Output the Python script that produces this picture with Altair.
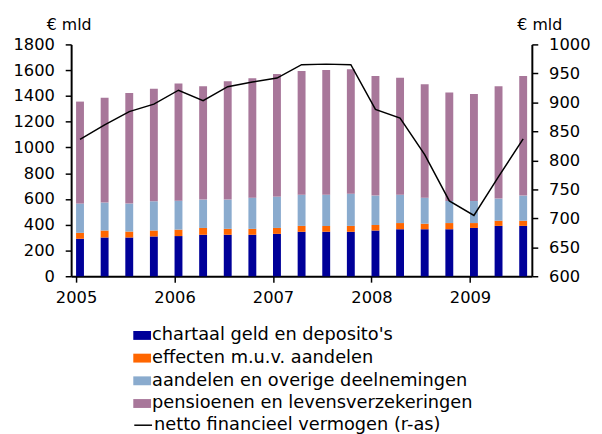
import altair as alt
import pandas as pd

quarters = ["2005Q1", "2005Q2", "2005Q3", "2005Q4",
            "2006Q1", "2006Q2", "2006Q3", "2006Q4",
            "2007Q1", "2007Q2", "2007Q3", "2007Q4",
            "2008Q1", "2008Q2", "2008Q3", "2008Q4",
            "2009Q1", "2009Q2", "2009Q3"]
chartaal = [291, 301, 301, 309, 312, 322, 322, 322, 329, 345, 345, 345, 355, 365, 365, 365, 375, 391, 391]
effecten = [46, 54, 46, 46, 50, 53, 46, 46, 46, 46, 46, 46, 43, 48, 43, 48, 38, 40, 40]
aandelen = [227, 217, 217, 227, 225, 220, 227, 242, 243, 242, 241, 250, 228, 220, 202, 171, 171, 172, 195]
pensioen = [792, 814, 858, 873, 909, 881, 919, 927, 952, 960, 969, 967, 929, 909, 881, 843, 831, 873, 929]
netto = [836, 861, 884, 897, 921, 903, 927, 935, 942, 965, 966, 965, 888, 873, 810, 730, 705, 772, 837]

series_names = ["chartaal geld en deposito's", "effecten m.u.v. aandelen",
                "aandelen en overige deelnemingen", "pensioenen en levensverzekeringen"]
series_colors = ["#000099", "#FF6600", "#8AABCE", "#A8779A"]
line_name = "netto financieel vermogen (r-as)"
year_ticks = [2005, 2006, 2007, 2008, 2009]


def qpos(q):
    return int(q[:4]) + (int(q[5]) - 1) / 4 + 0.04


rows = []
for i, q in enumerate(quarters):
    for k, vals in enumerate([chartaal, effecten, aandelen, pensioen]):
        rows.append({"t": qpos(q), "series": series_names[k], "order": k, "value": vals[i]})
bars_df = pd.DataFrame(rows)
line_df = pd.DataFrame({"t": [qpos(q) for q in quarters], "netto": netto, "s": [line_name] * len(quarters)})

FONT = "DejaVu Sans"
FS = 16.5
LFS = 18
xscale = alt.Scale(domain=[2005, 2009.578], nice=False, zero=False)

x_axis = alt.Axis(values=year_ticks, format="d", title=None, tickSize=6, tickWidth=1.5,
                  domainColor="black", domainWidth=2, tickColor="black", labelFont=FONT,
                  labelFontSize=FS, labelColor="black", labelPadding=8, grid=False,
                  labelFlush=False)


def yaxis(vals, orient, tx):
    return alt.Axis(values=vals, format="d", title="€ mld", titleAngle=0,
                    titleX=tx, titleY=-15, titleAlign="center", titleBaseline="alphabetic",
                    titleFont=FONT, titleFontSize=16, titleFontWeight="normal", titleColor="black",
                    tickSize=6, tickWidth=1.5, tickColor="black", domainColor="black", domainWidth=2,
                    labelFont=FONT, labelFontSize=FS, labelColor="black", labelPadding=11,
                    grid=False, orient=orient)


bars = alt.Chart(bars_df).mark_bar(size=8).encode(
    x=alt.X("t:Q", scale=xscale, axis=x_axis),
    y=alt.Y("value:Q", stack="zero",
            scale=alt.Scale(domain=[0, 1800], nice=False),
            axis=yaxis(list(range(0, 1801, 200)), "left", -2.5)),
    color=alt.Color("series:N", scale=alt.Scale(domain=series_names, range=series_colors),
                    legend=alt.Legend(title=None, orient="none", legendX=63, legendY=286,
                                      symbolType="M-1,-0.5H1V0.5H-1Z", symbolSize=324,
                                      symbolStrokeWidth=0, symbolOpacity=1,
                                      labelFont=FONT, labelFontSize=LFS, labelColor="black",
                                      labelOffset=1, rowPadding=5, padding=0, labelLimit=500)),
    order=alt.Order("order:Q", sort="ascending"),
)

line = alt.Chart(line_df).mark_line(strokeWidth=1.5).encode(
    x=alt.X("t:Q", scale=xscale, axis=x_axis),
    y=alt.Y("netto:Q", scale=alt.Scale(domain=[600, 1000], nice=False, zero=False),
            axis=yaxis(list(range(600, 1001, 50)), "right", 7.5)),
    stroke=alt.Stroke("s:N", scale=alt.Scale(domain=[line_name], range=["black"]),
                      legend=alt.Legend(title=None, orient="none", legendX=63, legendY=376,
                                        symbolType="stroke", symbolSize=324, symbolStrokeWidth=1.5,
                                        labelFont=FONT, labelFontSize=LFS, labelColor="black",
                                        labelOffset=1, padding=0, labelLimit=500)),
)

chart = alt.layer(bars, line).resolve_scale(y="independent", color="independent").properties(
    width=467, height=235,
    background="white",
    autosize=alt.AutoSizeParams(type="none"),
    padding={"left": 64, "top": 34, "right": 63, "bottom": 157},
).configure(font=FONT).configure_view(stroke=None)

chart.save("out.html", embed_options={"renderer": "svg", "actions": False})
